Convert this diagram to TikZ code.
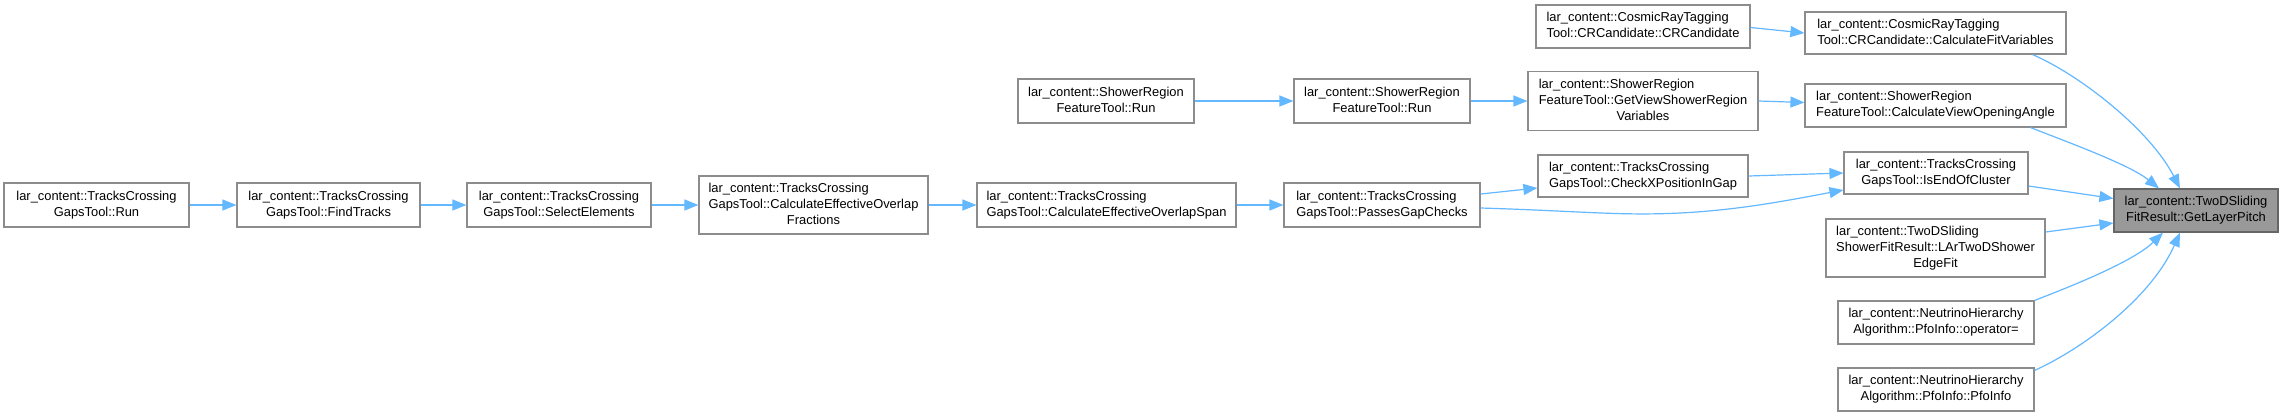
\documentclass[tikz,border=0pt]{standalone}
\usepackage{fontspec}
\setmainfont{Liberation Sans}
\usetikzlibrary{arrows.meta}
\definecolor{edgeblue}{HTML}{63B8FF}
\definecolor{boxgray}{HTML}{8C8C8C}
\definecolor{hifill}{HTML}{999999}
\definecolor{hidraw}{HTML}{666666}
\newcommand{\lbl}[2]{\begin{tabular}{@{}l@{}}#1\\\multicolumn{1}{@{}c@{}}{#2}\end{tabular}}
\begin{document}
\begin{tikzpicture}[x=1pt,y=-1pt,
  fnbox/.style={draw=boxgray, fill=white, line width=1.2pt, rectangle, inner sep=0pt,
    font=\fontsize{12.9}{16}\selectfont, align=center},
  hibox/.style={fnbox, fill=hifill, draw=hidraw},
  call/.style={draw=edgeblue, line width=1.2pt, -{Triangle[length=14pt,width=11pt]}}
]
\fill[white] (0,0) rectangle (2284,416);
\useasboundingbox (0,0) rectangle (2284,416);

% left part
\node[fnbox, minimum width=185pt, minimum height=44pt] (run) at (96.5,205) {\lbl{lar\_content::TracksCrossing}{GapsTool::Run}};
\node[fnbox, minimum width=183pt, minimum height=44pt] (find) at (328.5,205) {\lbl{lar\_content::TracksCrossing}{GapsTool::FindTracks}};
\node[fnbox, minimum width=184pt, minimum height=44pt] (sel) at (559,205) {\lbl{lar\_content::TracksCrossing}{GapsTool::SelectElements}};
\node[fnbox, minimum width=229pt, minimum height=58pt] (frac) at (813.5,205) {\lbl{lar\_content::TracksCrossing\\GapsTool::CalculateEffectiveOverlap}{Fractions}};
\node[fnbox, minimum width=259pt, minimum height=44pt] (span) at (1106.5,205) {\lbl{lar\_content::TracksCrossing}{GapsTool::CalculateEffectiveOverlapSpan}};
\node[fnbox, minimum width=196pt, minimum height=44pt] (pass) at (1382,205) {\lbl{lar\_content::TracksCrossing}{GapsTool::PassesGapChecks}};
\node[fnbox, minimum width=176pt, minimum height=44pt] (srunA) at (1106,101) {\lbl{lar\_content::ShowerRegion}{FeatureTool::Run}};
\node[fnbox, minimum width=176pt, minimum height=44pt] (srunB) at (1382,101) {\lbl{lar\_content::ShowerRegion}{FeatureTool::Run}};

% column 2
\node[fnbox, minimum width=214pt, minimum height=43pt] (crc) at (1643,26.5) {\lbl{lar\_content::CosmicRayTagging}{Tool::CRCandidate::CRCandidate}};
\node[fnbox, minimum width=230pt, minimum height=59pt] (gvsrv) at (1643,101) {\lbl{lar\_content::ShowerRegion\\FeatureTool::GetViewShowerRegion}{Variables}};
\node[fnbox, minimum width=210pt, minimum height=42pt] (chk) at (1643,176) {\lbl{lar\_content::TracksCrossing}{GapsTool::CheckXPositionInGap}};

% column 1
\node[fnbox, minimum width=261pt, minimum height=42pt] (cfv) at (1935.5,33) {\lbl{lar\_content::CosmicRayTagging}{Tool::CRCandidate::CalculateFitVariables}};
\node[fnbox, minimum width=261pt, minimum height=43pt] (cvoa) at (1935.5,105.5) {\lbl{lar\_content::ShowerRegion}{FeatureTool::CalculateViewOpeningAngle}};
\node[fnbox, minimum width=184pt, minimum height=42pt] (ieoc) at (1936,173) {\lbl{lar\_content::TracksCrossing}{GapsTool::IsEndOfCluster}};
\node[fnbox, minimum width=219pt, minimum height=58pt] (edgefit) at (1935.5,248) {\lbl{lar\_content::TwoDSliding\\ShowerFitResult::LArTwoDShower}{EdgeFit}};
\node[fnbox, minimum width=196pt, minimum height=43pt] (opeq) at (1936,322.5) {\lbl{lar\_content::NeutrinoHierarchy}{Algorithm::PfoInfo::operator=}};
\node[fnbox, minimum width=196pt, minimum height=43pt] (pfo) at (1936,389.5) {\lbl{lar\_content::NeutrinoHierarchy}{Algorithm::PfoInfo::PfoInfo}};

% target
\node[hibox, minimum width=164pt, minimum height=43pt] (glp) at (2196,210.5) {\lbl{lar\_content::TwoDSliding}{FitResult::GetLayerPitch}};

% connectors
\draw[call] (run.east) -- (find.west);
\draw[call] (find.east) -- (sel.west);
\draw[call] (sel.east) -- (frac.west);
\draw[call] (frac.east) -- (span.west);
\draw[call] (span.east) -- (pass.west);
\draw[call] ([yshift=11pt]pass.east) -- ([yshift=-12pt]chk.west);
\draw[call] ([yshift=-3pt]pass.east) .. controls (1580,211) and (1620,216) .. (1680,213) .. controls (1740,210) and (1790,200) .. ([yshift=-17pt]ieoc.west);
\draw[call] (chk.east) -- (ieoc.west);
\draw[call] (srunA.east) -- (srunB.west);
\draw[call] (srunB.east) -- (gvsrv.west);
\draw[call] (gvsrv.east) -- ([yshift=3pt]cvoa.west);
\draw[call] ([yshift=-1pt]crc.east) -- (cfv.west);
\draw[call] ([xshift=-34pt]cfv.south east) .. controls (2080,75) and (2150,130) .. ([xshift=-16pt]glp.north);
\draw[call] ([xshift=-36pt]cvoa.south east) .. controls (2070,143) and (2130,165) .. ([xshift=-37pt]glp.north);
\draw[call] ([yshift=-13pt]ieoc.east) -- ([yshift=12pt]glp.west);
\draw[call] ([yshift=16pt]edgefit.east) -- ([yshift=-12.5pt]glp.west);
\draw[call] (opeq.north east) .. controls (2080,283) and (2135,260) .. ([xshift=-33pt]glp.south);
\draw[call] ([yshift=-3pt]pfo.north east) .. controls (2080,350) and (2150,300) .. ([xshift=-16pt]glp.south);
\end{tikzpicture}
\end{document}
